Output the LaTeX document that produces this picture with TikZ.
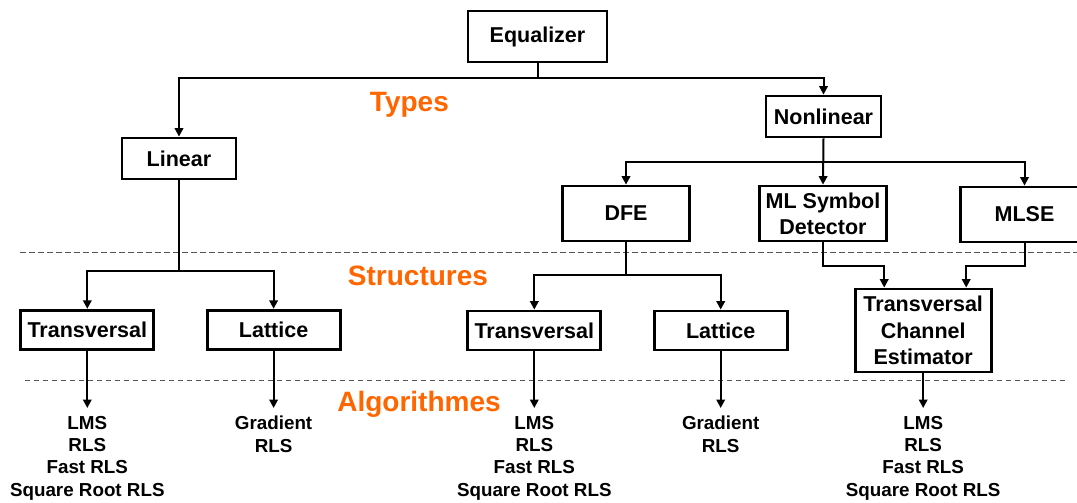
\documentclass[tikz,border=0pt]{standalone}
\usepackage{fontspec}
\setmainfont{Liberation Sans}
\usetikzlibrary{arrows.meta}
\definecolor{lbl}{HTML}{FF6600}
\definecolor{dashgray}{HTML}{555555}
\tikzset{
  box/.style={draw=black, line width=2.8pt, fill=white, inner sep=0pt, align=center,
    font=\fontsize{21.5}{26.2}\selectfont\bfseries},
  conn/.style={line width=2pt, draw=black},
  arr/.style={conn, -{Triangle[length=8.5pt,width=8.5pt]}},
  alg/.style={align=center, inner xsep=0pt, inner ysep=8pt, anchor=north,
    font=\fontsize{18.8}{22.3}\selectfont\bfseries},
  lvl/.style={text=lbl, anchor=base, inner sep=0pt, font=\fontsize{28}{30}\selectfont\bfseries},
  dashline/.style={draw=dashgray, line width=1.5pt, dash pattern=on 5.5pt off 3.5pt}
}
\begin{document}
\begin{tikzpicture}[x=1pt,y=-1pt]
\useasboundingbox (0,0) rectangle (1077,503);
\clip (0,0) rectangle (1077,503);
\fill[white] (0,0) rectangle (1077,503);

% dashed separators
\draw[dashline] (20,252.7) -- (1077,252.7);
\draw[dashline] (24.8,380.7) -- (1065,380.7);

% level labels
\node[lvl] (types) at (409.4,111.7) {Types};
\node[lvl] (structs) at (418,285.7) {Structures};
\node[lvl] (algos) at (419,411.7) {Algorithmes};

% boxes
\node[box, minimum width=139pt, minimum height=51pt] (eq) at (537.5,36.5) {Equalizer};
\node[box, minimum width=114pt, minimum height=41pt] (lin) at (179,158.5) {Linear};
\node[box, minimum width=115pt, minimum height=41pt] (nonlin) at (823.5,116.5) {Nonlinear};
\node[box, minimum width=127pt, minimum height=55pt] (dfe) at (626,213.5) {DFE};
\node[box, minimum width=127pt, minimum height=55pt] (ml) at (823,213.5) {ML Symbol\\Detector};
\node[box, minimum width=128pt, minimum height=55pt] (mlse) at (1024.5,214.5) {MLSE};
\node[box, minimum width=133pt, minimum height=39pt] (t1) at (87.3,329.7) {Transversal};
\node[box, minimum width=133pt, minimum height=39pt] (l1) at (273.6,329.7) {Lattice};
\node[box, minimum width=133pt, minimum height=39pt] (t2) at (534.3,330.5) {Transversal};
\node[box, minimum width=133pt, minimum height=39pt] (l2) at (720.7,330.5) {Lattice};
\node[box, minimum width=136pt, minimum height=83pt] (tce) at (923.2,330.5) {Transversal\\Channel\\Estimator};

% algorithm lists
\node[alg] (a1) at (87.3,408) {LMS\\RLS\\Fast RLS\\Square Root RLS};
\node[alg] (a2) at (273.6,408) {Gradient\\RLS};
\node[alg] (a3) at (534.3,408) {LMS\\RLS\\Fast RLS\\Square Root RLS};
\node[alg] (a4) at (720.7,408) {Gradient\\RLS};
\node[alg] (a5) at (923.2,408) {LMS\\RLS\\Fast RLS\\Square Root RLS};

% junction coordinates
\coordinate (j1) at (537.5,77.7);
\coordinate (j2) at (823.5,161.7);
\coordinate (j3) at (179,270.7);
\coordinate (j4) at (626,275);

% connectors
\draw[conn] (eq.south) -- (j1);
\draw[arr] (j1) -| (lin.north);
\draw[arr] (j1) -| (nonlin.north);

\draw[arr] (nonlin.south) -- (ml.north);
\draw[arr] (j2) -| (dfe.north);
\draw[arr] (j2) -| (mlse.north);

\draw[conn] (lin.south) -- (j3);
\draw[arr] (j3) -| (t1.north);
\draw[arr] (j3) -| (l1.north);

\draw[conn] (dfe.south) -- (j4);
\draw[arr] (j4) -| (t2.north);
\draw[arr] (j4) -| (l2.north);

\draw[arr] (ml.south) -- ++(0,24) -| ([xshift=-39pt]tce.north);
\draw[arr] (mlse.south) -- ++(0,23) -| ([xshift=43pt]tce.north);

\draw[arr] (t1.south) -- (a1.north);
\draw[arr] (l1.south) -- (a2.north);
\draw[arr] (t2.south) -- (a3.north);
\draw[arr] (l2.south) -- (a4.north);
\draw[arr] (tce.south) -- (a5.north);
\end{tikzpicture}
\end{document}
